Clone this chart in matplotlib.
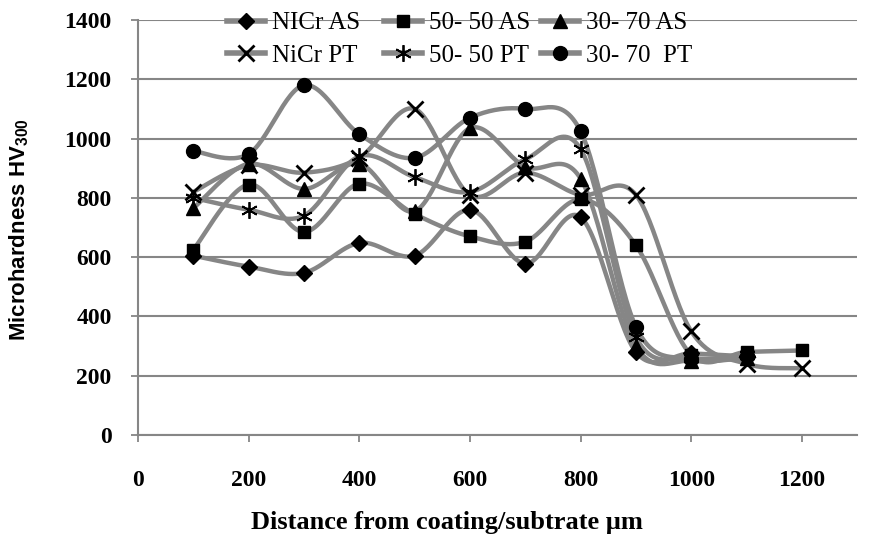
import matplotlib
matplotlib.use('Agg')
import matplotlib.pyplot as plt
import numpy as np

plt.rcParams['mathtext.fontset'] = 'custom'
plt.rcParams['mathtext.rm'] = 'Liberation Sans:bold'
plt.rcParams['mathtext.default'] = 'rm'

# distance from coating/substrate (um)
dist = [100, 200, 300, 400, 500, 600, 700, 800, 900, 1000, 1100, 1200]

nicr_as = [605, 568, 547, 648, 605, 760, 578, 735, 280, 275, 265]
s5050_as = [625, 845, 685, 848, 745, 670, 652, 795, 640, 270, 280, 285]
s3070_as = [765, 915, 830, 915, 755, 1035, 905, 865, 300, 250, 260]
nicr_pt = [820, 910, 885, 935, 1100, 810, 885, 810, 810, 350, 240, 225]
s5050_pt = [800, 760, 740, 940, 870, 820, 930, 965, 330, 260, 270]
s3070_pt = [958, 948, 1180, 1015, 935, 1070, 1100, 1025, 365, 255, 265]

labels = ['NICr AS', '50- 50 AS', '30- 70 AS', 'NiCr PT', '50- 50 PT', '30- 70  PT']
series = [nicr_as, s5050_as, s3070_as, nicr_pt, s5050_pt, s3070_pt]
markers = ['D', 's', '^', 'x', (6, 2, 0), 'o']
msizes = [8.5, 9, 9.5, 11, 12, 10]
mews = [1, 1, 1, 2, 1.3, 1]


def smooth(x, y, n=30):
    # Excel-like smoothed line (Catmull-Rom bezier)
    x = np.asarray(x, float)
    y = np.asarray(y, float)
    px, py = [], []
    for i in range(len(x) - 1):
        x0, y0 = (x[i - 1], y[i - 1]) if i > 0 else (x[i], y[i])
        x3, y3 = (x[i + 2], y[i + 2]) if i + 2 < len(x) else (x[i + 1], y[i + 1])
        c1x = x[i] + (x[i + 1] - x0) / 6
        c1y = y[i] + (y[i + 1] - y0) / 6
        c2x = x[i + 1] - (x3 - x[i]) / 6
        c2y = y[i + 1] - (y3 - y[i]) / 6
        t = np.linspace(0, 1, n)
        bx = (1 - t)**3 * x[i] + 3 * (1 - t)**2 * t * c1x + 3 * (1 - t) * t**2 * c2x + t**3 * x[i + 1]
        by = (1 - t)**3 * y[i] + 3 * (1 - t)**2 * t * c1y + 3 * (1 - t) * t**2 * c2y + t**3 * y[i + 1]
        px.extend(bx)
        py.extend(by)
    return px, py


fig = plt.figure(figsize=(8.92, 5.41), dpi=100)
ax = fig.add_axes([0.1547, 0.196, 0.8063, 0.767])

gray = '#868686'
handles = []
for y, lab, m, ms, mw in zip(series, labels, markers, msizes, mews):
    xs = dist[:len(y)]
    sx, sy = smooth(xs, y)
    ax.plot(sx, sy, color=gray, lw=3.2, zorder=2, solid_capstyle='round')
    ax.plot(xs, y, linestyle='none', marker=m, ms=ms, color='black', mew=mw, zorder=3)
    h, = ax.plot([], [], color=gray, lw=4, marker=m, ms=ms, mfc='black', mec='black', mew=mw)
    handles.append(h)

ax.set_xlim(0, 1300)
ax.set_ylim(0, 1400)
ax.set_xticks(range(0, 1201, 200))
ax.set_yticks(range(0, 1401, 200))
ax.yaxis.grid(True, color=gray, lw=1.5)
ax.set_axisbelow(True)
for s in ['top', 'right']:
    ax.spines[s].set_visible(False)
for s in ['left', 'bottom']:
    ax.spines[s].set_color(gray)
    ax.spines[s].set_linewidth(1.5)
ax.tick_params(axis='both', color=gray, width=1.3, length=5)
ax.tick_params(axis='x', pad=20)
ax.tick_params(axis='y', pad=14)
for t in ax.get_xticklabels() + ax.get_yticklabels():
    t.set_fontfamily('Liberation Serif')
    t.set_fontweight('bold')
    t.set_fontsize(17)

ax.set_xlabel('Distance from coating/subtrate µm', fontfamily='Liberation Serif',
              fontweight='bold', fontsize=19, va='center')
ax.xaxis.set_label_coords(0.43, -0.21)
fig.text(0.021, 0.575, 'Microhardness HV$_{300}$', rotation=90, ha='center', va='center',
         fontfamily='Liberation Sans', fontweight='bold', fontsize=16)

# legend: three columns, each its own legend so the columns sit where Excel put them
col_x = [0.255, 0.431, 0.607]
for c, x0 in enumerate(col_x):
    leg = fig.legend([handles[c], handles[c + 3]], [labels[c], labels[c + 3]],
                     loc='upper left', bbox_to_anchor=(x0, 0.978), frameon=False,
                     prop={'family': 'Liberation Serif', 'size': 18},
                     handlelength=1.5, handletextpad=0.3, labelspacing=0.4,
                     borderpad=0, borderaxespad=0)

fig.savefig('out.png', dpi=100)
